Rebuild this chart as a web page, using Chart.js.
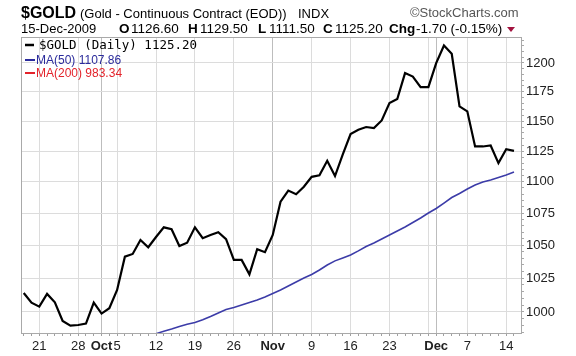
<!DOCTYPE html>
<html>
<head>
<meta charset="utf-8">
<script src="https://cdn.jsdelivr.net/npm/chart.js@4.4.1/dist/chart.umd.min.js"></script>
<style>
html,body{margin:0;padding:0;background:#ffffff;}
#wrap{width:576px;height:356px;position:relative;overflow:hidden;}
canvas{display:block;}
</style>
</head>
<body>
<div id="wrap"><canvas id="c" width="576" height="356"></canvas></div>
<script>
// ---- trading days (categories) ----
const dates = [
  '2009-09-17','2009-09-18','2009-09-21','2009-09-22','2009-09-23','2009-09-24','2009-09-25',
  '2009-09-28','2009-09-29','2009-09-30','2009-10-01','2009-10-02',
  '2009-10-05','2009-10-06','2009-10-07','2009-10-08','2009-10-09',
  '2009-10-12','2009-10-13','2009-10-14','2009-10-15','2009-10-16',
  '2009-10-19','2009-10-20','2009-10-21','2009-10-22','2009-10-23',
  '2009-10-26','2009-10-27','2009-10-28','2009-10-29','2009-10-30',
  '2009-11-02','2009-11-03','2009-11-04','2009-11-05','2009-11-06',
  '2009-11-09','2009-11-10','2009-11-11','2009-11-12','2009-11-13',
  '2009-11-16','2009-11-17','2009-11-18','2009-11-19','2009-11-20',
  '2009-11-23','2009-11-24','2009-11-25','2009-11-26','2009-11-27',
  '2009-11-30','2009-12-01','2009-12-02','2009-12-03','2009-12-04',
  '2009-12-07','2009-12-08','2009-12-09','2009-12-10','2009-12-11',
  '2009-12-14','2009-12-15'
];

// ---- $GOLD daily close ----
const goldClose = [
  1014.0, 1006.8, 1003.9, 1013.3, 1007.1, 993.4, 990.0,
  990.5, 991.5, 1006.8, 998.8, 1002.7,
  1016.2, 1041.3, 1043.4, 1054.1, 1048.5,
  1056.4, 1063.9, 1062.4, 1049.5, 1052.0,
  1063.9, 1055.5, 1058.0, 1060.1, 1054.7,
  1038.8, 1038.8, 1027.9, 1047.0, 1044.7,
  1058.0, 1084.1, 1092.9, 1090.0, 1096.0,
  1104.0, 1105.2, 1117.0, 1104.6, 1122.2,
  1139.1, 1142.7, 1145.0, 1144.1, 1150.5,
  1165.3, 1168.7, 1191.1, 1188.1, 1178.9,
  1178.9, 1199.9, 1215.4, 1208.1, 1162.4,
  1158.2, 1128.8, 1128.8, 1129.6, 1115.1,
  1126.6, 1125.2
];

// ---- MA(50) ----
const ma50 = [
  null, null, null, null, null, null, null,
  null, null, null, null, null,
  null, null, null, null, 982.6,
  984.2, 986.0, 987.6, 989.4, 991.0,
  992.3, 994.3, 996.7, 999.3, 1001.8,
  1003.3, 1005.1, 1007.0, 1008.8, 1011.0,
  1013.6, 1016.2, 1019.2, 1022.2, 1025.2,
  1027.8, 1031.2, 1035.0, 1038.1, 1040.3,
  1042.6, 1045.7, 1049.1, 1051.8, 1054.9,
  1058.0, 1061.1, 1064.2, 1067.7, 1071.2,
  1075.1, 1078.7, 1083.0, 1087.4, 1090.6,
  1094.2, 1097.4, 1099.9, 1101.5, 1103.5,
  1105.5, 1107.86
];

// ---- x-axis grid / tick labels ----
const gridDates  = ['2009-09-21','2009-09-28','2009-10-01','2009-10-05','2009-10-12','2009-10-19','2009-10-26',
                    '2009-11-02','2009-11-09','2009-11-16','2009-11-23','2009-11-30','2009-12-01','2009-12-07','2009-12-14'];
const gridLabels = ['21','28','Oct','5','12','19','26','Nov','9','16','23','','Dec','7','14'];
const monthStarts = ['2009-10-01','2009-11-02','2009-12-01'];

// ---- y-axis tick labels ----
const yLabelTicks = [1000, 1025, 1050, 1075, 1100, 1125, 1150, 1175, 1200];

// ---- header / legend texts ----
const titleSymbol = '$GOLD';
const titleName = '(Gold - Continuous Contract (EOD))';
const titleExch = 'INDX';
const credit = '\u00A9StockCharts.com';
const quoteDate = '15-Dec-2009';
const quoteParts = [['O','1126.60'],['H','1129.50'],['L','1111.50'],['C','1125.20'],['Chg','-1.70 (-0.15%)']];
const legendTexts = ['$GOLD (Daily) 1125.20', 'MA(50) 1107.86', 'MA(200) 983.34'];
const legendColors = ['#000000', '#2b2b9c', '#e3232b'];

// derived
const gridIdx = gridDates.map(d => dates.indexOf(d));
const monthIdx = monthStarts.map(d => dates.indexOf(d));
const yMinorTicks = [];
for (let v = 985; v <= 1220; v += 5) yMinorTicks.push(v);

const FONT = "'Liberation Sans', Arial, sans-serif";

const framePlugin = {
  id: 'frame',
  beforeDatasetsDraw(chart) {
    const {ctx, chartArea: a} = chart;
    ctx.save();
    ctx.strokeStyle = '#a9a9a9';
    ctx.lineWidth = 1;
    ctx.strokeRect(Math.round(a.left) + 0.5, Math.round(a.top) + 0.5,
                   Math.round(a.right - a.left), Math.round(a.bottom - a.top));
    ctx.restore();
  }
};

const headerPlugin = {
  id: 'header',
  afterDraw(chart) {
    const ctx = chart.ctx;
    ctx.save();
    ctx.textBaseline = 'alphabetic';
    ctx.textAlign = 'left';
    // line 1
    ctx.fillStyle = '#000';
    ctx.font = 'bold 16px ' + FONT;
    ctx.fillText(titleSymbol, 21, 18);
    ctx.font = '13px ' + FONT;
    ctx.fillText(titleName, 80, 18);
    ctx.fillText(titleExch, 298, 18);
    ctx.fillStyle = '#555';
    ctx.font = '13px ' + FONT;
    ctx.fillText(credit, 410, 17);
    // line 2
    ctx.fillStyle = '#000';
    ctx.font = '13px ' + FONT;
    ctx.fillText(quoteDate, 21, 33);
    const xs = [[119, 131], [188, 200], [258, 269], [323, 335], [389, 416]];
    quoteParts.forEach((p, i) => {
      ctx.font = 'bold 13.5px ' + FONT;
      ctx.fillText(p[0], xs[i][0], 33);
      ctx.font = '13.5px ' + FONT;
      ctx.fillText(p[1], xs[i][1], 33);
    });
    // down triangle
    ctx.fillStyle = '#a3133f';
    ctx.beginPath();
    ctx.moveTo(507, 27); ctx.lineTo(515, 27); ctx.lineTo(511, 32); ctx.closePath();
    ctx.fill();

    // legend inside plot
    const ly = [45, 60, 73];
    legendTexts.forEach((t, i) => {
      ctx.strokeStyle = legendColors[i];
      ctx.lineWidth = i === 0 ? 2.5 : 2;
      ctx.beginPath();
      ctx.moveTo(25, ly[i]); ctx.lineTo(i === 0 ? 34 : 35, ly[i]);
      ctx.stroke();
      ctx.fillStyle = legendColors[i];
      ctx.textBaseline = 'middle';
      if (i === 0) {
        ctx.font = "12.5px 'DejaVu Sans Mono', monospace";
        ctx.fillText(t, 39, ly[i] + 0.5);
      } else {
        ctx.font = '12px ' + FONT;
        ctx.fillText(t, 36, ly[i] + 0.5);
      }
    });
    ctx.restore();
  }
};

function xGridColor(v) {
  if (monthIdx.includes(v)) return '#bdbdbd';
  if (gridIdx.includes(v)) return '#dcdcdc';
  return 'rgba(0,0,0,0)';
}

const ctx = document.getElementById('c').getContext('2d');
new Chart(ctx, {
  type: 'line',
  data: {
    datasets: [
      {
        label: 'MA(50)',
        data: ma50.map((v, i) => ({x: i, y: v})),
        borderColor: '#3c3ca8',
        borderWidth: 1.6,
        pointRadius: 0,
        tension: 0,
        spanGaps: false,
        order: 2
      },
      {
        label: '$GOLD',
        data: goldClose.map((v, i) => ({x: i, y: v})),
        borderColor: '#000000',
        borderWidth: 2.2,
        pointRadius: 0,
        tension: 0,
        order: 1
      }
    ]
  },
  options: {
    responsive: false,
    animation: false,
    devicePixelRatio: 1,
    layout: {padding: {top: 37, left: 21, right: 0, bottom: 0}},
    plugins: {legend: {display: false}, tooltip: {enabled: false}},
    scales: {
      x: {
        type: 'linear',
        min: -0.35,
        max: 63.9,
        afterBuildTicks: s => { s.ticks = dates.map((d, i) => ({value: i})); },
        afterFit: s => { s.height = 23; },
        border: {display: false},
        grid: {
          color: c => (c.tick ? xGridColor(c.tick.value) : 'rgba(0,0,0,0)'),
          tickColor: '#a0a0a0',
          tickLength: 3,
          lineWidth: 1
        },
        ticks: {
          autoSkip: false,
          maxRotation: 0,
          minRotation: 0,
          padding: 3,
          color: '#222',
          font: c => ({family: FONT, size: 13, weight: (c.tick && monthIdx.includes(c.tick.value)) ? 'bold' : 'normal'}),
          callback: v => { const k = gridIdx.indexOf(v); return k >= 0 ? gridLabels[k] : ''; }
        }
      },
      y: {
        type: 'logarithmic',
        position: 'right',
        min: 984.7,
        max: 1223,
        afterBuildTicks: s => { s.ticks = yMinorTicks.map(v => ({value: v})); },
        afterFit: s => { s.width = 55; },
        border: {display: false},
        grid: {
          color: c => (c.tick && yLabelTicks.includes(c.tick.value)) ? '#dcdcdc' : 'rgba(0,0,0,0)',
          tickColor: '#a8a8a8',
          tickLength: 3,
          lineWidth: 1
        },
        ticks: {
          autoSkip: false,
          padding: 2,
          color: '#222',
          font: {family: FONT, size: 13},
          callback: v => yLabelTicks.includes(v) ? String(v) : ''
        }
      }
    }
  },
  plugins: [framePlugin, headerPlugin]
});
</script>
</body>
</html>
